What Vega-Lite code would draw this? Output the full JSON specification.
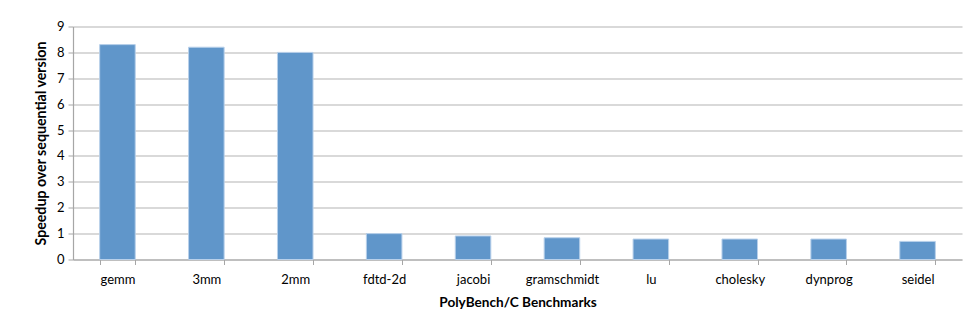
{
  "$schema": "https://vega.github.io/schema/vega-lite/v6.json",
  "width": 889,
  "height": 233,
  "autosize": {"type": "none"},
  "padding": {"left": 73, "top": 26.5, "right": 7, "bottom": 68.5},
  "background": "white",
  "data": {
    "values": [
      {"benchmark": "gemm", "speedup": 8.3},
      {"benchmark": "3mm", "speedup": 8.2},
      {"benchmark": "2mm", "speedup": 8.0},
      {"benchmark": "fdtd-2d", "speedup": 1.0},
      {"benchmark": "jacobi", "speedup": 0.91},
      {"benchmark": "gramschmidt", "speedup": 0.84},
      {"benchmark": "lu", "speedup": 0.79},
      {"benchmark": "cholesky", "speedup": 0.79},
      {"benchmark": "dynprog", "speedup": 0.79},
      {"benchmark": "seidel", "speedup": 0.7}
    ]
  },
  "mark": {"type": "bar", "color": "#6096ca", "stroke": "#b8d0ea", "strokeWidth": 1},
  "encoding": {
    "x": {
      "field": "benchmark",
      "type": "nominal",
      "sort": null,
      "scale": {"paddingInner": 0.6, "paddingOuter": 0.3},
      "axis": {
        "title": "PolyBench/C Benchmarks",
        "titleFontSize": 13.6,
        "labelAngle": 0,
        "tickBand": "extent",
        "tickSize": 5,
        "labelPadding": 9,
        "titlePadding": 9,
        "grid": false
      }
    },
    "y": {
      "field": "speedup",
      "type": "quantitative",
      "scale": {"domain": [0, 9], "nice": false},
      "axis": {
        "title": "Speedup over sequential version",
        "titleFontSize": 14.2,
        "values": [0, 1, 2, 3, 4, 5, 6, 7, 8, 9],
        "tickSize": 5,
        "labelPadding": 4,
        "titlePadding": 8,
        "grid": true
      }
    }
  },
  "config": {
    "font": "Lato",
    "view": {"stroke": null},
    "axis": {
      "labelFont": "Lato",
      "labelFontSize": 13,
      "labelColor": "#000000",
      "titleFont": "Lato",
      "titleFontWeight": "bold",
      "titleColor": "#000000",
      "domainColor": "#a6a6a6",
      "tickColor": "#a6a6a6",
      "gridColor": "#b3b3b3",
      "gridWidth": 1.2,
      "domainWidth": 1.2
    }
  }
}
